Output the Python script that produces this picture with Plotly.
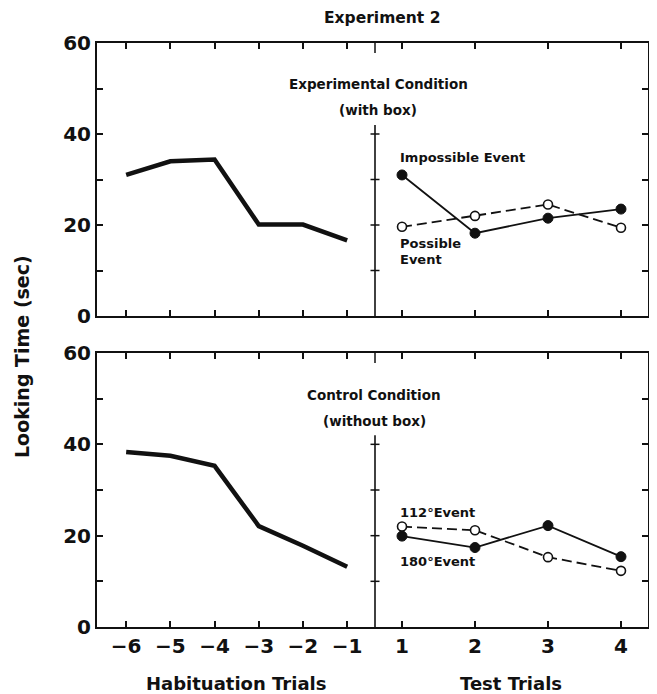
import plotly.graph_objects as go

# ---- data ----
hab_trials = [-6, -5, -4, -3, -2, -1]
test_trials = [1, 2, 3, 4]

exp_habituation = [31.0, 34.0, 34.4, 20.1, 20.1, 16.6]
exp_impossible = [31.0, 18.2, 21.5, 23.5]
exp_possible = [19.6, 22.0, 24.5, 19.4]

ctl_habituation = [38.3, 37.5, 35.3, 22.1, 17.8, 13.2]
ctl_180 = [19.9, 17.4, 22.2, 15.4]
ctl_112 = [22.0, 21.2, 15.3, 12.3]

y_tickvals = [0, 10, 20, 30, 40, 50, 60]
y_ticktext = ["0", "", "20", "", "40", "", "60"]
hab_ticktext = ["\u22126", "\u22125", "\u22124", "\u22123", "\u22122", "\u22121"]
test_ticktext = ["1", "2", "3", "4"]

# ---- layout geometry (page pixels; page body has an 8px margin) ----
PAGE_W, PAGE_H = 657, 694
OFF = 8
W, H = PAGE_W - OFF, PAGE_H - OFF
FRAME_L, FRAME_R, FRAME_T, FRAME_B = 97, 648, 43, 627   # page coords
L, T = FRAME_L - OFF, FRAME_T - OFF
R, B = W - (FRAME_R - OFF), H - (FRAME_B - OFF)
pw, ph = W - L - R, H - T - B


def px(x):
    return (x - FRAME_L) / pw


def py(y):
    return (FRAME_B - y) / ph


DV = px(375)
TOP_DOM = [py(316), 1.0]
BOT_DOM = [0.0, py(353)]

FONT = "DejaVu Sans, Liberation Sans, Arial, sans-serif"
BLACK = "#111111"

fig = go.Figure()

hab_line = dict(color=BLACK, width=4.5)
solid = dict(color=BLACK, width=1.8)
dashed = dict(color=BLACK, width=1.8, dash="10px,5px")
filled_m = dict(symbol="circle", size=10, color=BLACK, line=dict(color=BLACK, width=1))
open_m = dict(symbol="circle", size=9, color="white", line=dict(color=BLACK, width=1.6))

# top row (experimental)
fig.add_trace(go.Scatter(x=hab_trials, y=exp_habituation, mode="lines", line=hab_line,
                         xaxis="x3", yaxis="y3", showlegend=False))
fig.add_trace(go.Scatter(x=test_trials, y=exp_possible, mode="lines+markers", line=dashed,
                         marker=open_m, xaxis="x4", yaxis="y4", showlegend=False))
fig.add_trace(go.Scatter(x=test_trials, y=exp_impossible, mode="lines+markers", line=solid,
                         marker=filled_m, xaxis="x4", yaxis="y4", showlegend=False))
# bottom row (control)
fig.add_trace(go.Scatter(x=hab_trials, y=ctl_habituation, mode="lines", line=hab_line,
                         xaxis="x", yaxis="y", showlegend=False))
fig.add_trace(go.Scatter(x=test_trials, y=ctl_112, mode="lines+markers", line=dashed,
                         marker=open_m, xaxis="x2", yaxis="y2", showlegend=False))
fig.add_trace(go.Scatter(x=test_trials, y=ctl_180, mode="lines+markers", line=solid,
                         marker=filled_m, xaxis="x2", yaxis="y2", showlegend=False))

tickfont = dict(family=FONT, size=20, color=BLACK, weight="bold")

common_x = dict(showline=True, linecolor=BLACK, linewidth=2, mirror="ticks",
                ticks="inside", ticklen=6, tickwidth=1.5, tickcolor=BLACK,
                showgrid=False, zeroline=False, tickfont=tickfont, fixedrange=True)
common_y = dict(showline=True, linecolor=BLACK, linewidth=2, range=[0, 60],
                tickvals=y_tickvals, ticks="inside", ticklen=6, tickwidth=1.5,
                tickcolor=BLACK, showgrid=False, zeroline=False, tickfont=tickfont,
                fixedrange=True)

fig.update_layout(
    width=W, height=H,
    margin=dict(l=L, r=R, t=T, b=B),
    paper_bgcolor="white", plot_bgcolor="white",
    xaxis=dict(common_x, domain=[0, DV], range=[-6.66, -0.37], anchor="y",
               tickvals=hab_trials, ticktext=hab_ticktext),
    xaxis2=dict(common_x, domain=[DV, 1], range=[0.63, 4.37], anchor="y2",
                tickvals=test_trials, ticktext=test_ticktext),
    xaxis3=dict(common_x, domain=[0, DV], range=[-6.66, -0.37], anchor="y3",
                tickvals=hab_trials, showticklabels=False),
    xaxis4=dict(common_x, domain=[DV, 1], range=[0.63, 4.37], anchor="y4",
                tickvals=test_trials, showticklabels=False),
    yaxis=dict(common_y, domain=BOT_DOM, anchor="x", ticktext=y_ticktext),
    yaxis2=dict(common_y, domain=BOT_DOM, anchor="x2", side="right", showticklabels=False),
    yaxis3=dict(common_y, domain=TOP_DOM, anchor="x3", ticktext=y_ticktext),
    yaxis4=dict(common_y, domain=TOP_DOM, anchor="x4", side="right", showticklabels=False),
)

# divider lines with cross ticks
tk = 4.5 / pw
for yref in ["y2", "y4"]:
    fig.add_shape(type="line", xref="paper", yref=yref, x0=DV, x1=DV, y0=0, y1=42,
                  line=dict(color=BLACK, width=1.6))
    for v in [10, 20, 30, 40]:
        fig.add_shape(type="line", xref="paper", yref=yref, x0=DV - tk, x1=DV + tk,
                      y0=v, y1=v, line=dict(color=BLACK, width=1.5))
    # tick on top frame at divider
    fig.add_shape(type="line", xref="paper", yref=yref, x0=DV, x1=DV, y0=60, y1=57.8,
                  line=dict(color=BLACK, width=1.5))


def label(text, x, y, xanchor="center", size=13.5, **kw):
    fig.add_annotation(text=text, x=px(x), y=py(y), xref="paper", yref="paper",
                       xanchor=xanchor, yanchor="middle", showarrow=False,
                       font=dict(family=FONT, size=size, color=BLACK, weight="bold"), **kw)


label("Experiment 2", 382, 18, size=15.5)
label("Experimental Condition", 378, 84)
label("(with box)", 378, 110)
label("Impossible Event", 398, 158, xanchor="left", size=13)
label("Possible", 398, 243, xanchor="left", size=13)
label("Event", 398, 259, xanchor="left", size=13)
label("Control Condition", 374, 395)
label("(without box)", 374, 421)
label("112°Event", 398, 512, xanchor="left", size=13)
label("180°Event", 398, 561, xanchor="left", size=13)

label("Habituation Trials", 236, 683, size=18)
label("Test Trials", 511, 683, size=18)
label("Looking Time (sec)", 22, 357, size=19, textangle=-90)

fig.write_html("out.html")
